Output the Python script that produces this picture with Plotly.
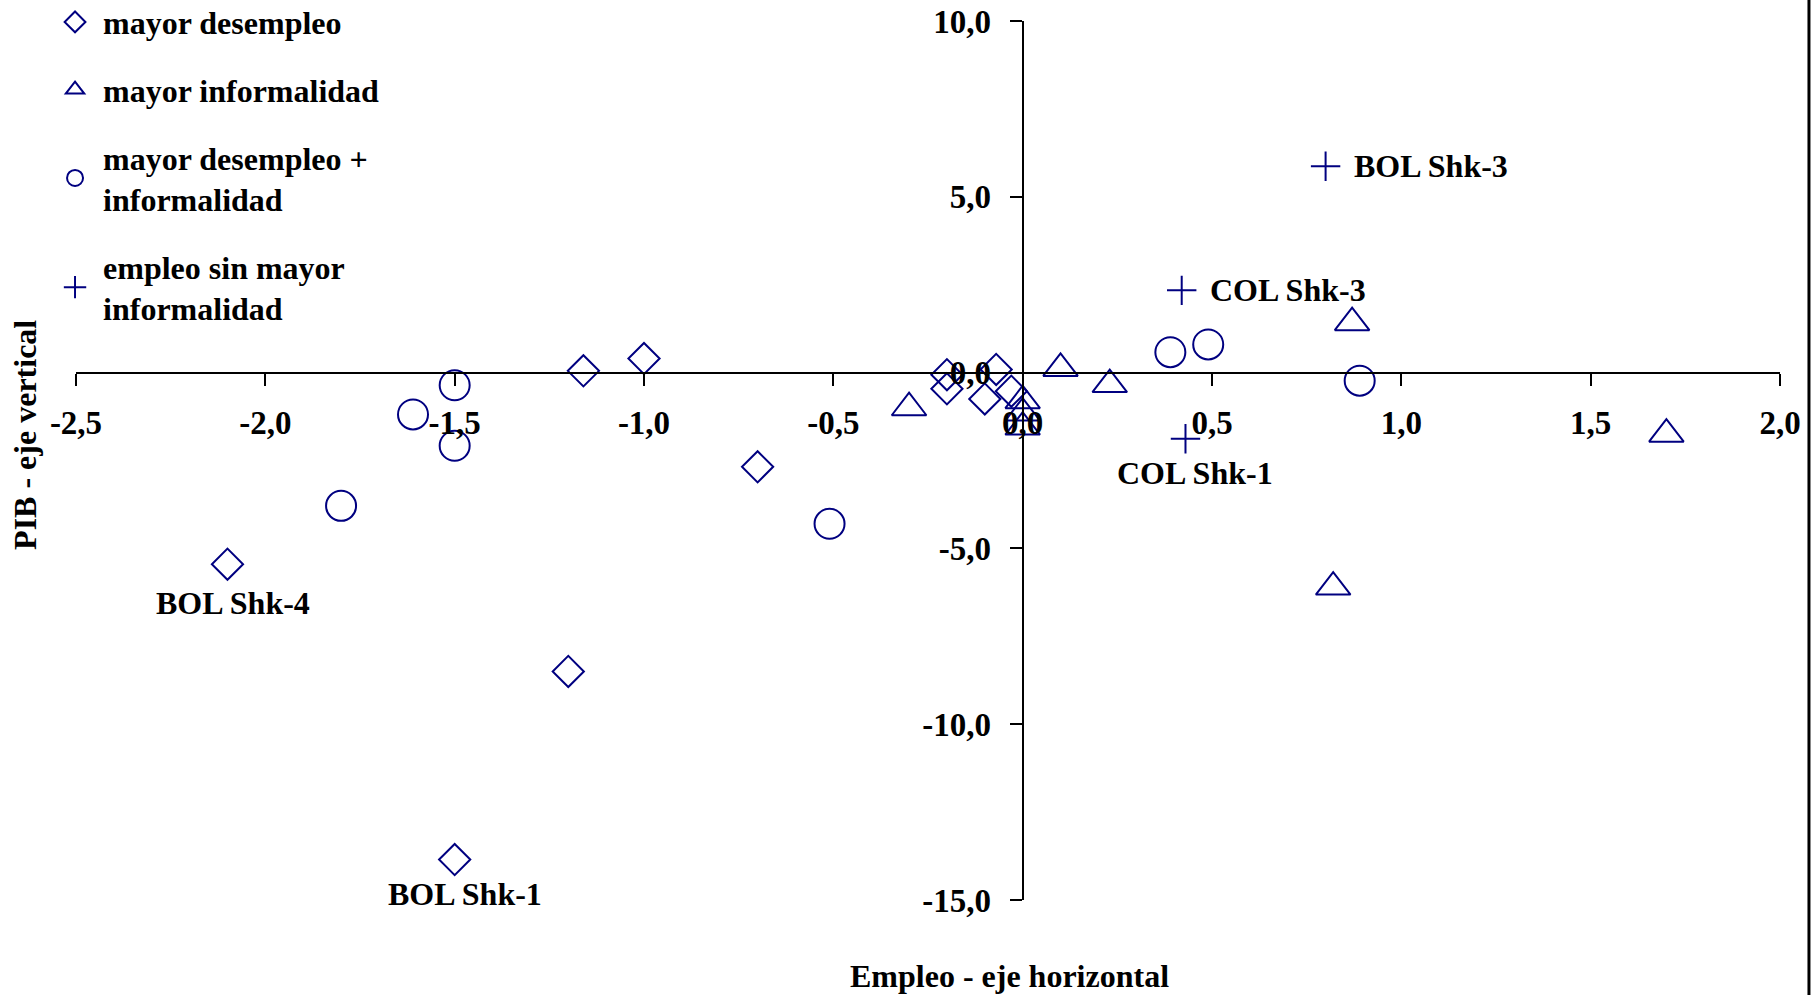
import plotly.graph_objects as go

# ---------------- data ----------------
series_names = [
    "mayor desempleo",
    "mayor informalidad",
    "mayor desempleo +<br>informalidad",
    "empleo sin mayor<br>informalidad",
]

diamond_x = [-2.10, -1.50, -1.20, -1.16, -1.00, -0.70, -0.20, -0.20, -0.10, -0.07, -0.03]
diamond_y = [-5.45, -13.85, -8.50, 0.05, 0.40, -2.68, -0.06, -0.46, -0.75, 0.09, -0.53]
diamond_labels = ["BOL Shk-4", "BOL Shk-1", "", "", "", "", "", "", "", "", ""]

triangle_x = [-0.30, 0.00, 0.00, 0.00, 0.10, 0.23, 0.87, 0.82, 1.70]
triangle_y = [-1.00, -0.80, -1.15, -1.55, 0.12, -0.34, 1.42, -6.10, -1.75]

circle_x = [-1.80, -1.61, -1.50, -1.50, -0.51, 0.39, 0.49, 0.89]
circle_y = [-3.79, -1.19, -0.36, -2.08, -4.30, 0.58, 0.80, -0.23]

plus_x = [0.80, 0.42, 0.43]
plus_y = [5.87, 2.34, -1.88]
plus_labels = ["BOL Shk-3", "COL Shk-3", "COL Shk-1"]

x_tick_vals = [-2.5, -2.0, -1.5, -1.0, -0.5, 0.0, 0.5, 1.0, 1.5, 2.0]
x_tick_text = ["-2,5", "-2,0", "-1,5", "-1,0", "-0,5", "0,0", "0,5", "1,0", "1,5", "2,0"]
y_tick_vals = [-15, -10, -5, 0, 5, 10]
y_tick_text = ["-15,0", "-10,0", "-5,0", "0,0", "5,0", "10,0"]

x_title = "Empleo - eje horizontal"
y_title = "PIB - eje vertical"

# ---------------- styling ----------------
NAVY = "#000080"
FONT = "Liberation Serif"
FS = 32
X_RANGE = [-2.5, 2.0]
Y_RANGE = [-15, 10]

label_style = {
    "BOL Shk-3": dict(xanchor="left", yanchor="middle", xshift=26, yshift=0),
    "COL Shk-3": dict(xanchor="left", yanchor="middle", xshift=26, yshift=0),
    "COL Shk-1": dict(xanchor="center", yanchor="middle", xshift=10, yshift=-34),
    "BOL Shk-4": dict(xanchor="center", yanchor="middle", xshift=6, yshift=-39),
    "BOL Shk-1": dict(xanchor="center", yanchor="middle", xshift=10, yshift=-34),
}

fig = go.Figure()

def add_series(xs, ys, name, symbol, size, group):
    fig.add_trace(go.Scatter(
        x=xs, y=ys, mode="markers", name=name, legendgroup=group,
        marker=dict(symbol=symbol, size=size, color=NAVY,
                    line=dict(color=NAVY, width=2)),
        cliponaxis=False,
    ))

add_series(diamond_x, diamond_y, series_names[0], "diamond-open", 24, "g1")
add_series(triangle_x, triangle_y, series_names[1], "triangle-up-open", 30, "g2")
add_series(circle_x, circle_y, series_names[2], "circle-open", 30, "g3")
add_series(plus_x, plus_y, series_names[3], "cross-thin-open", 21, "g4")

annotations = []
for xs, ys, labels in [(diamond_x, diamond_y, diamond_labels), (plus_x, plus_y, plus_labels)]:
    for xv, yv, lab in zip(xs, ys, labels):
        if not lab:
            continue
        st = label_style[lab]
        annotations.append(dict(x=xv, y=yv, xref="x", yref="y", text=lab,
                                showarrow=False, font=dict(family=FONT, size=FS, color="black", weight="bold"),
                                **st))

# axis titles
annotations.append(dict(x=0.548, y=-0.086, xref="paper", yref="paper", text=x_title,
                        showarrow=False, xanchor="center", yanchor="middle",
                        font=dict(family=FONT, size=FS, color="black", weight="bold")))
annotations.append(dict(x=-0.030, y=0.529, xref="paper", yref="paper", text=y_title,
                        showarrow=False, xanchor="center", yanchor="middle", textangle=-90,
                        font=dict(family=FONT, size=FS, color="black", weight="bold")))

x_pos = (0 - Y_RANGE[0]) / (Y_RANGE[1] - Y_RANGE[0])
y_pos = (0 - X_RANGE[0]) / (X_RANGE[1] - X_RANGE[0])

tickfont = dict(family=FONT, size=33, color="black", weight="bold")

fig.update_layout(
    width=1819, height=995,
    margin=dict(l=76, r=39, t=21, b=95, autoexpand=False),
    paper_bgcolor="white", plot_bgcolor="white",
    font=dict(family=FONT, size=FS, color="black", weight="bold"),
    showlegend=True,
    legend=dict(x=-0.017, y=1.03, xanchor="left", yanchor="top",
                traceorder="grouped", tracegroupgap=23, itemwidth=46,
                font=dict(family=FONT, size=FS, color="black", weight="bold"),
                bgcolor="rgba(0,0,0,0)", itemsizing="trace"),
    xaxis=dict(range=X_RANGE, anchor="free", position=x_pos, side="bottom",
               showline=True, linecolor="black", linewidth=2,
               showgrid=False, zeroline=False,
               ticks="outside", ticklen=12, tickwidth=2, tickcolor="black",
               tickvals=x_tick_vals, ticktext=x_tick_text, tickfont=tickfont,
               ticklabelstandoff=9),
    yaxis=dict(range=Y_RANGE, anchor="free", position=y_pos, side="left",
               showline=True, linecolor="black", linewidth=2,
               showgrid=False, zeroline=False,
               ticks="outside", ticklen=12, tickwidth=2, tickcolor="black",
               tickvals=y_tick_vals, ticktext=y_tick_text, tickfont=tickfont,
               ticklabelstandoff=12),
    annotations=annotations,
    shapes=[dict(type="line", xref="paper", yref="paper", x0=1.017, x1=1.017,
                 y0=-0.11, y1=1.03, layer="above", line=dict(color="black", width=3))],
)

fig.write_html("out.html", config={"displayModeBar": False},
               post_script="document.body.style.margin='0';document.body.style.overflow='hidden';")
